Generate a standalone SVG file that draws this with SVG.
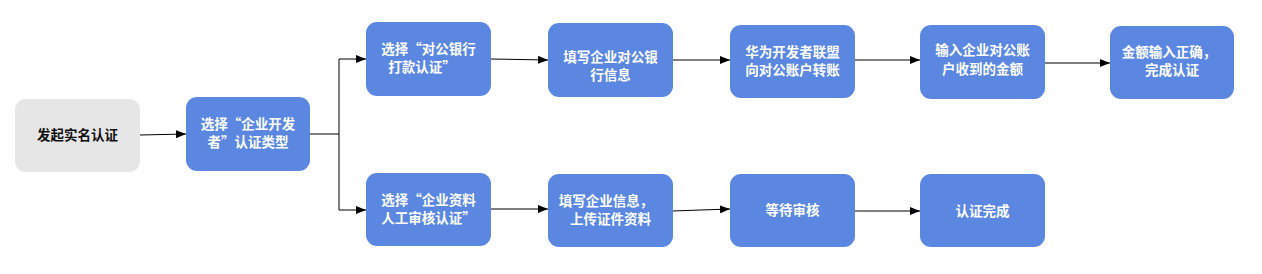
<svg xmlns="http://www.w3.org/2000/svg" width="1262" height="274" viewBox="0 0 1262 274">
<defs>
<marker id="arr" markerWidth="10" markerHeight="8" refX="10" refY="4" orient="auto" markerUnits="userSpaceOnUse">
<path d="M0,0 L10,4 L0,8 Z" fill="#000"/>
</marker>
<style>
.n{fill:#5b87e1;}
.g{fill:#e6e6e6;}
.t{font-family:"Noto Sans CJK SC","Noto Sans",sans-serif;font-size:13.5px;font-weight:bold;fill:#fff;text-anchor:middle;}
.tk{fill:#111;}
.c{fill:none;stroke:#000;stroke-width:1;}
</style>
</defs>
<rect width="1262" height="274" fill="#fff"/>
<g id="connectors">
<path class="c" d="M140,135 L186,134" marker-end="url(#arr)"/>
<path class="c" d="M310,134 L339,134"/>
<path class="c" d="M339,59 L339,210"/>
<path class="c" d="M339,59 L366,59" marker-end="url(#arr)"/>
<path class="c" d="M339,210 L366,210" marker-end="url(#arr)"/>
<path class="c" d="M491,59 L548,60" marker-end="url(#arr)"/>
<path class="c" d="M673,60 L730,60" marker-end="url(#arr)"/>
<path class="c" d="M855,60 L920,60" marker-end="url(#arr)"/>
<path class="c" d="M1045,63 L1110,63" marker-end="url(#arr)"/>
<path class="c" d="M491,209 L548,209" marker-end="url(#arr)"/>
<path class="c" d="M672,211 L730,209" marker-end="url(#arr)"/>
<path class="c" d="M855,211 L920,211" marker-end="url(#arr)"/>
</g>
<g id="n1"><rect class="g" x="15" y="99" width="125" height="73" rx="11"/><text class="t tk" x="77.5" y="140">发起实名认证</text></g>
<g id="n2"><rect class="n" x="186" y="97" width="124" height="74" rx="11"/><text class="t" x="248" y="129">选择“企业开发</text><text class="t" x="248" y="147">者”认证类型</text></g>
<g id="n3"><rect class="n" x="366" y="22" width="125" height="74" rx="11"/><text class="t" x="428.5" y="54">选择“对公银行</text><text class="t" x="422" y="72">打款认证”</text></g>
<g id="n4"><rect class="n" x="548" y="23" width="125" height="74" rx="11"/><text class="t" x="610.5" y="62">填写企业对公银</text><text class="t" x="610.5" y="80">行信息</text></g>
<g id="n5"><rect class="n" x="730" y="25" width="125" height="73" rx="11"/><text class="t" x="792.5" y="57">华为开发者联盟</text><text class="t" x="792.5" y="75">向对公账户转账</text></g>
<g id="n6"><rect class="n" x="920" y="25" width="125" height="74" rx="11"/><text class="t" x="982.5" y="55">输入企业对公账</text><text class="t" x="982.5" y="74">户收到的金额</text></g>
<g id="n7"><rect class="n" x="1110" y="26" width="124" height="73" rx="11"/><text class="t" x="1169" y="57">金额输入正确，</text><text class="t" x="1172" y="75">完成认证</text></g>
<g id="n8"><rect class="n" x="366" y="173" width="125" height="73" rx="11"/><text class="t" x="428.5" y="205">选择“企业资料</text><text class="t" x="428.5" y="223">人工审核认证”</text></g>
<g id="n9"><rect class="n" x="548" y="174" width="125" height="73" rx="11"/><text class="t" x="606" y="206">填写企业信息，</text><text class="t" x="610.5" y="224">上传证件资料</text></g>
<g id="n10"><rect class="n" x="730" y="174" width="125" height="73" rx="11"/><text class="t" x="792.5" y="215">等待审核</text></g>
<g id="n11"><rect class="n" x="920" y="174" width="125" height="73" rx="11"/><text class="t" x="982.5" y="216">认证完成</text></g>
</svg>
